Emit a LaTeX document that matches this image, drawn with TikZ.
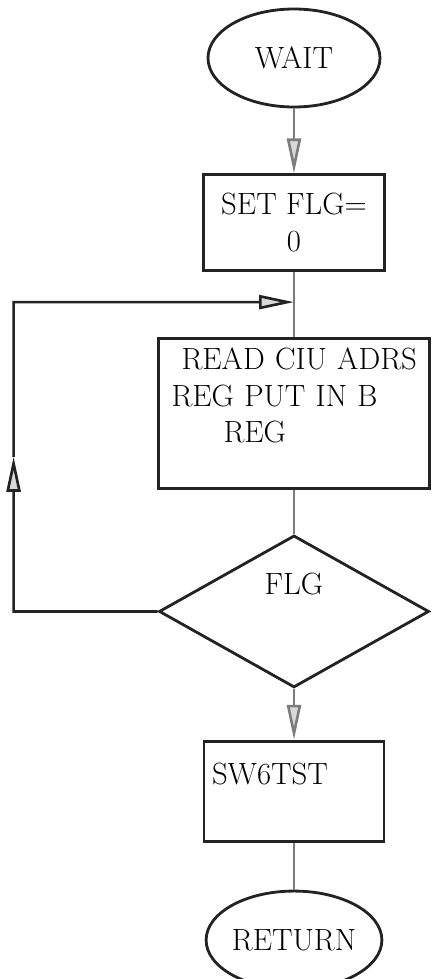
\documentclass[tikz,border=0pt]{standalone}
\usepackage{xcolor}
\definecolor{inkdark}{RGB}{35, 35, 35}
\definecolor{inkgray}{RGB}{125, 125, 125}
\usetikzlibrary{shapes.geometric, arrows.meta, positioning, calc}

\begin{document}
\begin{tikzpicture}[node distance=1.3cm, auto,
        font=\fontsize{17.5}{21}\selectfont,
        terminal/.style={ellipse, draw=inkdark, line width=1.6pt, minimum width=3.44cm, minimum height=1.96cm, inner sep=0pt},
        process/.style={rectangle, draw=inkdark, line width=1.6pt, minimum width=3.62cm, minimum height=1.92cm, inner sep=0pt, align=center},
        decision/.style={diamond, draw=inkdark, line width=1.6pt, minimum width=5.4cm, minimum height=3.04cm, inner sep=0pt, align=center},
        line/.style={draw=inkgray, line width=1.5pt, -{Triangle[length=0.7cm, width=0.28cm, fill=gray!30]}},
        plain/.style={draw=inkgray, line width=1.5pt}]

        \useasboundingbox (0,0) rectangle (8.76,-19.58);

        \node [terminal] (wait) at (5.88,-1.16) {WAIT};
        \node [process, below=1.3cm of wait] (setflg) {SET FLG=\\0};
        \node [process, below=1.3cm of setflg, minimum width=5.42cm, minimum height=3cm, inner xsep=0.26cm, text width=4.9cm, align=left] (readciu) {\hspace{0.2cm}\makebox[4.5cm][l]{READ CIU ADRS}\\REG PUT IN B\\\hspace{1.04cm}REG\\\mbox{}};
        \node [decision, below=0.88cm of readciu] (flg) {FLG\\[0.35cm]\mbox{}};
        \node [process, below=1.02cm of flg, minimum width=3.6cm, minimum height=2cm, inner xsep=0.16cm, text width=3.28cm, align=left] (swtst) {SW6TST\\[-0.05cm]\mbox{}};
        \node [terminal, below=0.94cm of swtst, minimum width=3.48cm] (return) {RETURN};

        \coordinate (join) at ($(setflg.south)!0.46!(readciu.north)$);
        \coordinate (loopbot) at ($(flg.west)+(-2.88cm,0)$);
        \coordinate (looptop) at (loopbot |- join);
        \coordinate (loopmid) at ($(loopbot)!0.5!(looptop)$);

        \path [line] (wait) -- (setflg);
        \path [plain] (setflg) -- (readciu);
        \path [plain] (readciu) -- (flg);
        \path [line] (flg) -- (swtst);
        \path [plain] (swtst) -- (return);

        \path [line, draw=inkdark] (flg.west) -- (loopbot) -- (loopmid);
        \path [line, draw=inkdark] (loopmid) -- (looptop) -- (join);
    \end{tikzpicture}
\end{document}
